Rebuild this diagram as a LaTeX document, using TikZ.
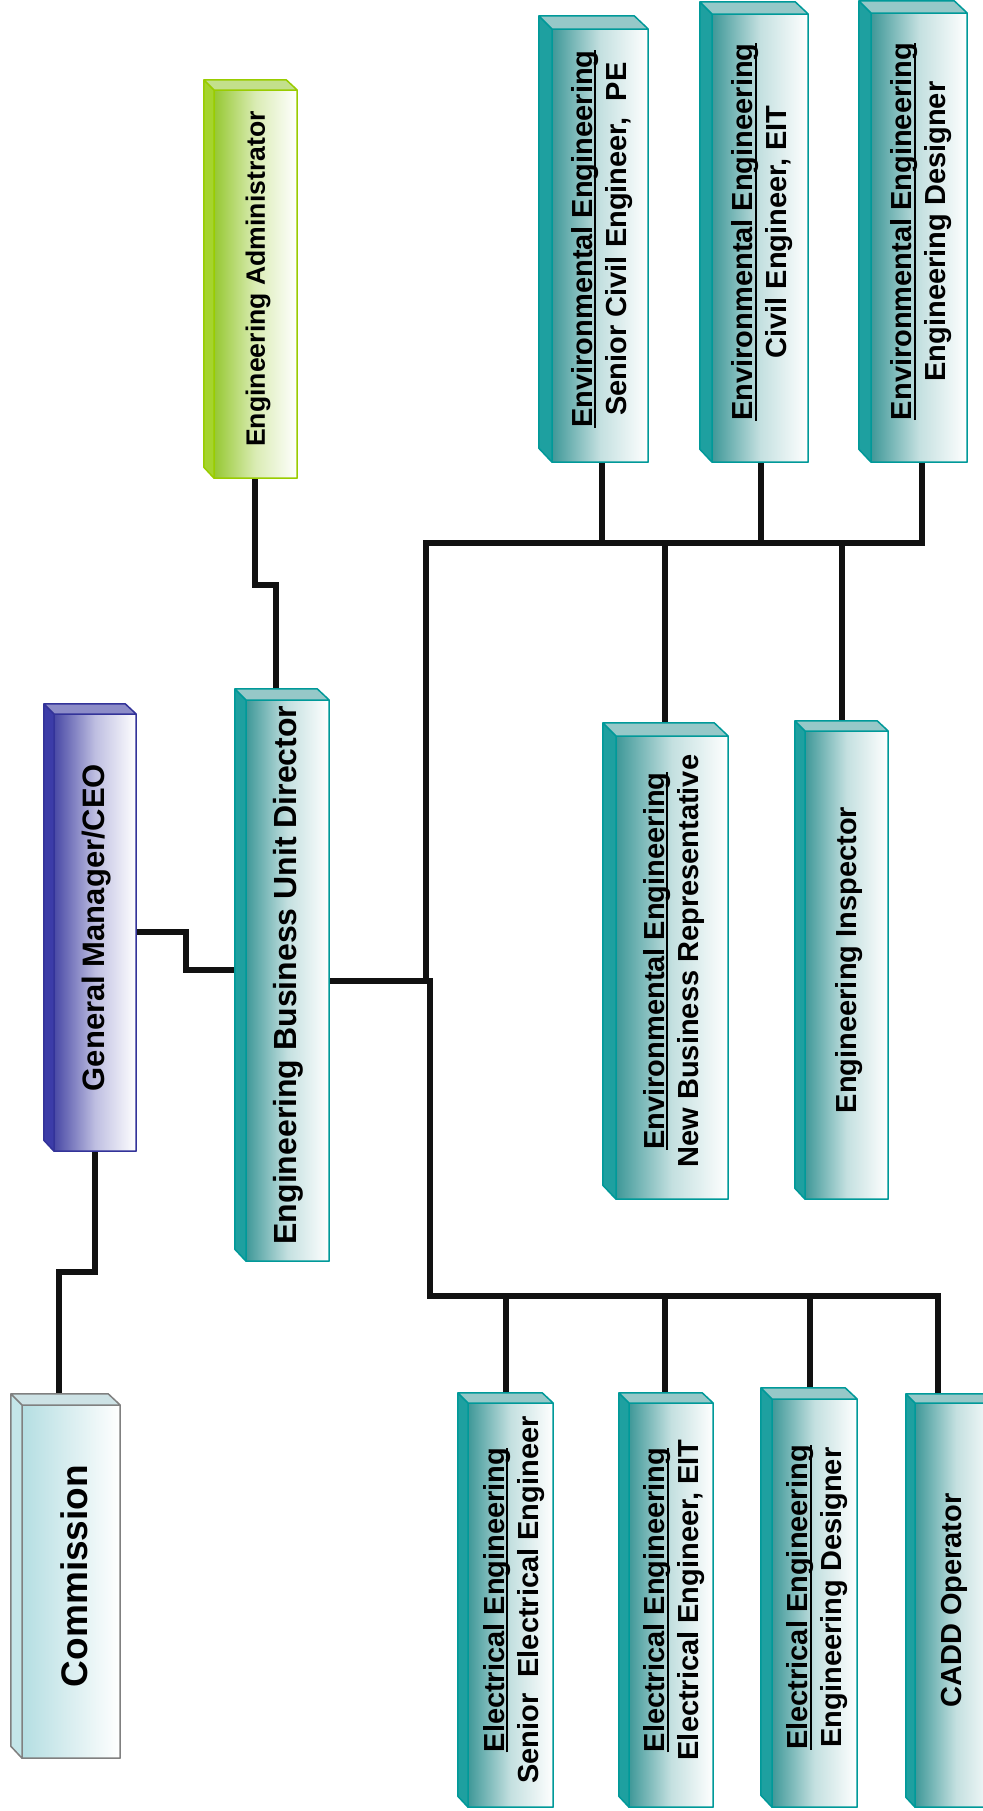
\documentclass[tikz,border=0pt]{standalone}
\usepackage{fontspec}
\setmainfont{Liberation Sans}
\usepackage{graphicx}
\usetikzlibrary{calc}

% face colours of the three-dimensional boxes
\definecolor{tealEdge}{RGB}{0,153,153}
\definecolor{tealLeft}{RGB}{62,152,152}
\definecolor{tealMid}{RGB}{196,224,224}
\definecolor{tealSide}{RGB}{30,160,160}
\definecolor{tealTop}{RGB}{150,200,200}
\definecolor{blueEdge}{RGB}{51,51,153}
\definecolor{blueLeft}{RGB}{72,72,165}
\definecolor{blueMid}{RGB}{190,190,225}
\definecolor{blueSide}{RGB}{60,60,168}
\definecolor{blueTop}{RGB}{140,140,200}
\definecolor{greenEdge}{RGB}{153,204,0}
\definecolor{greenLeft}{RGB}{150,200,50}
\definecolor{greenMid}{RGB}{218,236,180}
\definecolor{greenSide}{RGB}{165,212,45}
\definecolor{greenTop}{RGB}{195,224,140}
\definecolor{grayEdge}{RGB}{128,128,128}
\definecolor{cyanLeft}{RGB}{180,222,226}
\definecolor{cyanMid}{RGB}{218,238,240}
\definecolor{cyanSide}{RGB}{196,230,233}
\definecolor{cyanTop}{RGB}{205,226,229}
\definecolor{linkCol}{RGB}{17,17,17}

% underlined department name
\newcommand\deptline[1]{\setbox0=\hbox{#1}\rlap{\rule[-2pt]{\wd0}{1pt}}\box0}
% text set to read from bottom to top, nudged towards the front face
\newcommand\vtext[1]{\kern\txshift\rotatebox{90}{\begin{tabular}{@{}c@{}}#1\end{tabular}}}

\tikzset{
  boxdepth/.store in=\bxd, boxdepth=11,
  textshift/.store in=\txshift, textshift=8pt,
  edgecol/.store in=\bxedge, leftcol/.store in=\bxleft, midcol/.store in=\bxmid,
  sidecol/.store in=\bxside, topcol/.store in=\bxtop,
  % front face from (#1,#2) to (#3,#4); the node also covers the side and top faces
  place/.style n args={4}{
    at={({(#1-\bxd+#3)/2},{(#2-\bxd+#4)/2})},
    minimum width={(#3-#1+\bxd)*0.5pt},
    minimum height={(#4-#2+\bxd)*0.5pt}},
  box3d/.style={rectangle, inner sep=0pt, outer sep=0pt, text=black,
    font=\fontsize{14.5pt}{17pt}\selectfont\bfseries,
    path picture={
      \path (path picture bounding box.north west) ++(0.4pt,-0.4pt) coordinate (bxP);
      \path (path picture bounding box.north west) ++(\bxd*0.5pt,-\bxd*0.5pt) coordinate (bxF);
      \path (path picture bounding box.south east) ++(-0.4pt,0.4pt) coordinate (bxQ);
      \path (bxQ |- bxP) ++(-\bxd*0.5pt,0pt) coordinate (bxR);
      \path (bxP |- bxQ) ++(0pt,\bxd*0.5pt) coordinate (bxL);
      \fill[\bxside] (bxP) -- (bxF) -- (bxF |- bxQ) -- (bxL) -- cycle;
      \fill[\bxtop] (bxP) -- (bxR) -- (bxQ |- bxF) -- (bxF) -- cycle;
      \shade[left color=\bxleft, right color=white, middle color=\bxmid] (bxF) rectangle (bxQ);
      \draw[\bxedge, line width=0.75pt, line join=round]
        (bxP) -- (bxR) -- (bxQ |- bxF) -- (bxQ) -- (bxF |- bxQ) -- (bxL) -- cycle
        (bxP) -- (bxF) -- (bxQ |- bxF)
        (bxF) -- (bxF |- bxQ);
    }},
  tealbox/.style={box3d, edgecol=tealEdge, leftcol=tealLeft, midcol=tealMid,
    sidecol=tealSide, topcol=tealTop},
  bluebox/.style={box3d, edgecol=blueEdge, leftcol=blueLeft, midcol=blueMid,
    sidecol=blueSide, topcol=blueTop},
  greenbox/.style={box3d, edgecol=greenEdge, leftcol=greenLeft, midcol=greenMid,
    sidecol=greenSide, topcol=greenTop},
  cyanbox/.style={box3d, edgecol=grayEdge, leftcol=cyanLeft, midcol=cyanMid,
    sidecol=cyanSide, topcol=cyanTop},
  link/.style={draw=linkCol, line width=2.6pt, line join=miter}
}

\begin{document}
\begin{tikzpicture}[x=0.5pt, y=-0.5pt]
\path[clip] (0,0) rectangle (983,1811);
\useasboundingbox (0,0) rectangle (983,1811);

% management
\node[cyanbox, boxdepth=12, textshift=13pt, place={22}{1405}{121}{1759},
      font=\fontsize{18.5pt}{22pt}\selectfont\bfseries] (com) {\vtext{Commission}};
\node[bluebox, boxdepth=11, textshift=7pt, place={54}{714}{137}{1152},
      font=\fontsize{15.5pt}{18pt}\selectfont\bfseries] (gm) {\vtext{General Manager/CEO}};
\node[greenbox, boxdepth=11, textshift=8pt, place={214}{90}{298}{479},
      font=\fontsize{13.3pt}{16pt}\selectfont\bfseries] (ea) {\vtext{Engineering Administrator}};
\node[tealbox, boxdepth=12, textshift=7pt, place={246}{700}{330}{1262},
      font=\fontsize{16pt}{19pt}\selectfont\bfseries] (ebud) {\vtext{Engineering Business Unit Director}};

% environmental engineering
\node[tealbox, boxdepth=14, textshift=9pt, place={552}{29}{649}{463}] (env1)
  {\vtext{\deptline{Environmental Engineering}\\Senior Civil Engineer,\ \ PE}};
\node[tealbox, boxdepth=13, textshift=9pt, place={712}{14}{809}{463}] (env2)
  {\vtext{\deptline{Environmental Engineering}\\Civil Engineer, EIT}};
\node[tealbox, boxdepth=13, textshift=9pt, place={871}{13}{968}{463}] (env3)
  {\vtext{\deptline{Environmental Engineering}\\Engineering Designer}};
\node[tealbox, boxdepth=14, textshift=9pt, place={616}{736}{729}{1200}] (nbr)
  {\vtext{\deptline{Environmental Engineering}\\New Business Representative}};
\node[tealbox, boxdepth=11, textshift=8pt, place={805}{731}{889}{1200}] (insp)
  {\vtext{Engineering Inspector}};

% electrical engineering
\node[tealbox, boxdepth=11, textshift=9pt, place={468}{1403}{554}{1808}] (el1)
  {\vtext{\deptline{Electrical Engineering}\\Senior\ \ Electrical Engineer}};
\node[tealbox, boxdepth=11, textshift=9pt, place={629}{1403}{714}{1808}] (el2)
  {\vtext{\deptline{Electrical Engineering}\\Electrical Engineer, EIT}};
\node[tealbox, boxdepth=12, textshift=9pt, place={772}{1399}{858}{1808}] (el3)
  {\vtext{\deptline{Electrical Engineering}\\Engineering Designer}};
\node[tealbox, boxdepth=10, textshift=3pt, place={915}{1403}{998}{1808}] (cadd)
  {\vtext{CADD Operator}};

% reporting lines
\draw[link] (com.north -| 59,0) -- (59,1272) -- (95,1272) -- (gm.south -| 95,0);
\draw[link] (gm.east |- 0,932) -- (186,932) -- (186,970) -- (ebud.west |- 0,970);
\draw[link] (ea.south -| 255,0) -- (255,585) -- (276,585) -- (ebud.north -| 276,0);

% lower branch, fed straight from the director
\draw[link] (ebud.east |- 0,981) -- (430,981) -- (430,1296) -- (938,1296) -- (cadd.north -| 938,0);
\draw[link] (506,1296) -- (el1.north -| 506,0);
\draw[link] (665,1296) -- (el2.north -| 665,0);
\draw[link] (810,1296) -- (el3.north -| 810,0);

% upper branch
\coordinate (hub) at (426,983);
\draw[link] (hub) -- (426,543) -- (922,543) -- (env3.south -| 922,0);
\draw[link] (env1.south -| 602,0) -- (602,543);
\draw[link] (env2.south -| 761,0) -- (761,543);
\draw[link] (665,543) -- (nbr.north -| 665,0);
\draw[link] (842,543) -- (insp.north -| 842,0);
\end{tikzpicture}
\end{document}
